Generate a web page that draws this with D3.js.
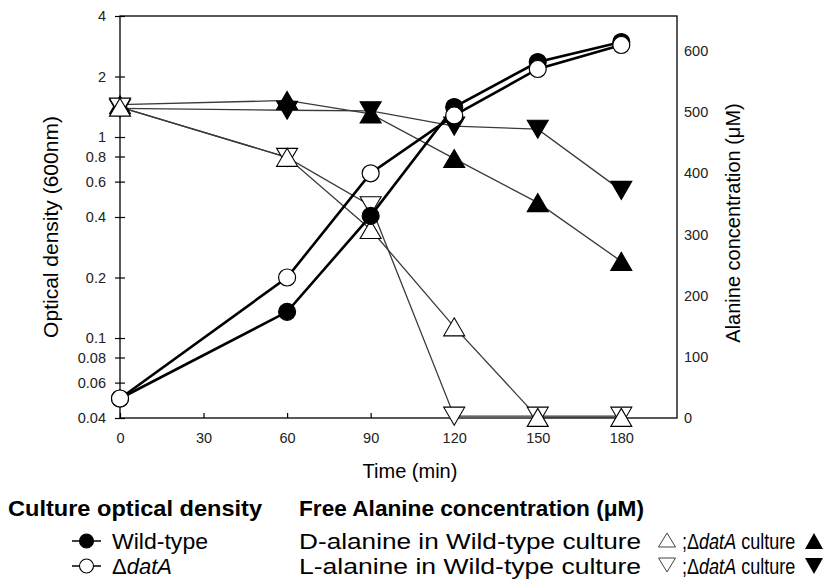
<!DOCTYPE html>
<html>
<head>
<meta charset="utf-8">
<script src="https://cdn.jsdelivr.net/npm/d3@7"></script>
<style>
  body { margin: 0; background: #fff; }
  svg { font-family: 'Liberation Sans', Arial, sans-serif; }
</style>
</head>
<body>
<script>
// sampling times (min)
const times = [0, 60, 90, 120, 150, 180]
// culture optical density (600nm), left log axis
const odWild = [0.05, 0.135, 0.405, 1.41, 2.36, 2.97]
const odDatA = [0.05, 0.2, 0.66, 1.28, 2.18, 2.87]
// free alanine (uM), right axis
const dAlaWild = [508, 426, 308, 149, 1, 1]
const lAlaWild = [508, 426, 347, 3, 3, 3]
const dAlaDatA = [512, 519, 497, 424, 352, 256]
const lAlaDatA = [506, 503, 502, 477, 472, 372]
// tick labels
const timeTicks = [0, 30, 60, 90, 120, 150, 180]
const odTicks = [4, 2, 1, 0.8, 0.6, 0.4, 0.2, 0.1, 0.08, 0.06, 0.04]
const alaTicks = [0, 100, 200, 300, 400, 500, 600]

const W = 829, H = 581
const plotL = 120, plotR = 677, plotT = 16, plotB = 418

const svg = d3.select('body').append('svg').attr('width', W).attr('height', H)

const x = d3.scaleLinear().domain([0, 200]).range([plotL, plotR])
const yL = d3.scaleLog().domain([0.04, 4]).range([plotB, plotT])
const yR = d3.scaleLinear().domain([0, 657]).range([plotB, plotT])

// frame
svg.append('rect')
  .attr('x', plotL).attr('y', plotT).attr('width', plotR - plotL).attr('height', plotB - plotT)
  .attr('fill', 'none').attr('stroke', '#000').attr('stroke-width', 1.3)

// left axis
const axL = svg.append('g').attr('transform', `translate(${plotL},0)`)
  .call(d3.axisLeft(yL).tickValues(odTicks).tickFormat(d => String(d)).tickSize(5).tickPadding(9))
axL.select('.domain').remove()
axL.selectAll('.tick line').attr('x2', 5).attr('x1', -5).attr('stroke-width', 1.2)
axL.selectAll('.tick text').attr('font-size', 14.5).attr('fill', '#222').attr('font-family', 'Liberation Sans')

// bottom axis
const axB = svg.append('g').attr('transform', `translate(0,${plotB})`)
  .call(d3.axisBottom(x).tickValues(timeTicks).tickSize(0).tickPadding(15))
axB.select('.domain').remove()
axB.selectAll('.tick line').attr('y2', -5).attr('stroke-width', 1.2)
axB.selectAll('.tick text').attr('font-size', 14.5).attr('fill', '#222').attr('font-family', 'Liberation Sans')

// right axis (labels only)
const axR = svg.append('g').attr('transform', `translate(${plotR},0)`)
  .call(d3.axisRight(yR).tickValues(alaTicks).tickSize(0).tickPadding(7))
axR.select('.domain').remove()
axR.selectAll('.tick text').attr('font-size', 14.5).attr('fill', '#222').attr('font-family', 'Liberation Sans')

// axis titles
svg.append('text').text('Optical density (600nm)')
  .attr('transform', 'translate(51,227) rotate(-90)')
  .attr('text-anchor', 'middle').attr('dy', '0.35em').attr('font-size', 21)
svg.append('text').text('Alanine concentration (\u03BCM)')
  .attr('transform', 'translate(733,223) rotate(-90)')
  .attr('text-anchor', 'middle').attr('dy', '0.35em').attr('font-size', 20)
svg.append('text').text('Time (min)')
  .attr('x', 410).attr('y', 478).attr('text-anchor', 'middle').attr('font-size', 20)

// markers
const tri = (w, h, up) => up
  ? `M0,${-h / 2}L${w / 2},${h / 2}L${-w / 2},${h / 2}Z`
  : `M0,${h / 2}L${w / 2},${-h / 2}L${-w / 2},${-h / 2}Z`

// filled first so the open ones sit on top at t = 0
const alaSeries = [
  { values: lAlaDatA, up: false, fill: '#000' },
  { values: dAlaDatA, up: true, fill: '#000' },
  { values: lAlaWild, up: false, fill: '#fff' },
  { values: dAlaWild, up: true, fill: '#fff' }
]

const alaLine = d3.line().x((d, i) => x(times[i])).y(d => yR(d))
alaSeries.forEach(s => {
  svg.append('path').attr('d', alaLine(s.values))
    .attr('fill', 'none').attr('stroke', '#3a3a3a').attr('stroke-width', 1.3)
})
alaSeries.forEach(s => {
  svg.append('g').selectAll('path').data(s.values).join('path')
    .attr('transform', (d, i) => `translate(${x(times[i])},${yR(d)})`)
    .attr('d', tri(21, 18, s.up))
    .attr('fill', s.fill).attr('stroke', '#000').attr('stroke-width', 1.1)
})

const odSeries = [
  { values: odWild, fill: '#000' },
  { values: odDatA, fill: '#fff' }
]
const odLine = d3.line().x((d, i) => x(times[i])).y(d => yL(d))
odSeries.forEach(s => {
  svg.append('path').attr('d', odLine(s.values))
    .attr('fill', 'none').attr('stroke', '#000').attr('stroke-width', 2.6)
})
odSeries.forEach(s => {
  svg.append('g').selectAll('circle').data(s.values).join('circle')
    .attr('cx', (d, i) => x(times[i])).attr('cy', d => yL(d)).attr('r', 8.5)
    .attr('fill', s.fill).attr('stroke', '#000').attr('stroke-width', 1.2)
})

// legend
const lg = svg.append('g').attr('font-size', 22).attr('fill', '#000')
lg.append('text').text('Culture optical density').attr('x', 8).attr('y', 516).attr('font-weight', 'bold')
  .attr('textLength', 254).attr('lengthAdjust', 'spacingAndGlyphs')
lg.append('text').text('Free Alanine concentration (\u03BCM)').attr('x', 299).attr('y', 516).attr('font-weight', 'bold')
  .attr('textLength', 345).attr('lengthAdjust', 'spacingAndGlyphs')

const legRows = [
  { y: 541, fill: '#000' },
  { y: 566, fill: '#fff' }
]
legRows.forEach(r => {
  lg.append('line').attr('x1', 72).attr('x2', 101).attr('y1', r.y).attr('y2', r.y)
    .attr('stroke', '#000').attr('stroke-width', 1.5)
  lg.append('circle').attr('cx', 86.5).attr('cy', r.y).attr('r', 7)
    .attr('fill', r.fill).attr('stroke', '#000').attr('stroke-width', 1.1)
})
lg.append('text').text('Wild-type').attr('x', 112).attr('y', 549)
  .attr('textLength', 96).attr('lengthAdjust', 'spacingAndGlyphs')
const dt = lg.append('text').attr('x', 112).attr('y', 574)
dt.append('tspan').text('\u0394')
dt.append('tspan').text('datA').attr('font-style', 'italic')

const alaRows = [
  { y: 541, label: 'D-alanine in Wild-type culture', up: true },
  { y: 566, label: 'L-alanine in Wild-type culture', up: false }
]
alaRows.forEach(r => {
  lg.append('text').text(r.label).attr('x', 299).attr('y', r.y + 8)
    .attr('textLength', 342).attr('lengthAdjust', 'spacingAndGlyphs')
  lg.append('path').attr('transform', `translate(667,${r.y - 1})`).attr('d', tri(17, 14, r.up))
    .attr('fill', 'none').attr('stroke', '#444').attr('stroke-width', 1)
  const t = lg.append('text').attr('transform', `translate(682,${r.y + 8}) scale(0.82,1)`)
  t.append('tspan').text(';\u0394')
  t.append('tspan').text('datA').attr('font-style', 'italic')
  t.append('tspan').text(' culture')
  lg.append('path').attr('transform', `translate(814,${r.y})`).attr('d', tri(18, 16, r.up))
    .attr('fill', '#000')
})
</script>
</body>
</html>
